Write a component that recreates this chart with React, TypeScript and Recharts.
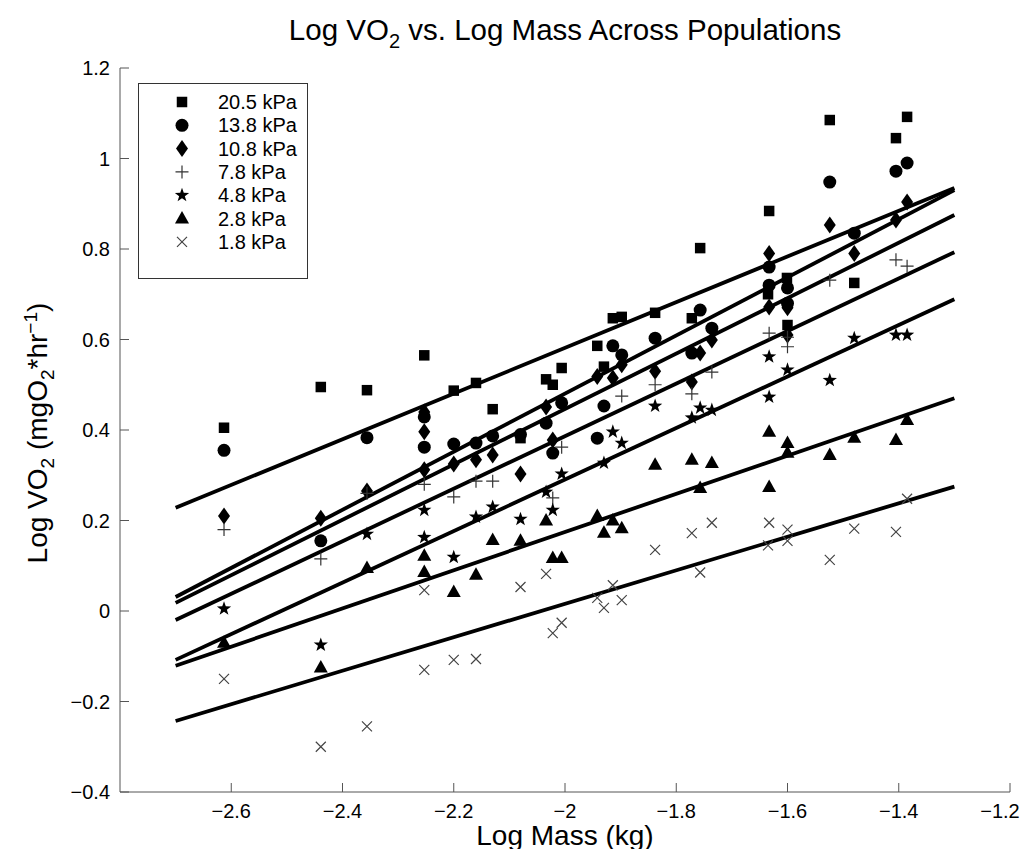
import React from "react";
import { ScatterChart, Scatter, XAxis, YAxis } from "recharts";

// measured points: [log mass (kg), log VO2]
const kpa205: [number, number][] = [
  [-2.613, 0.405], [-2.439, 0.495], [-2.356, 0.488], [-2.253, 0.565], [-2.2, 0.487],
  [-2.16, 0.504], [-2.13, 0.446], [-2.08, 0.382], [-2.034, 0.512], [-2.022, 0.5],
  [-2.006, 0.537], [-1.942, 0.586], [-1.93, 0.54], [-1.914, 0.647], [-1.898, 0.65],
  [-1.838, 0.659], [-1.772, 0.647], [-1.757, 0.802], [-1.633, 0.884], [-1.635, 0.7],
  [-1.601, 0.736], [-1.6, 0.632], [-1.524, 1.085], [-1.48, 0.725], [-1.405, 1.045],
  [-1.385, 1.092],
];
const kpa138: [number, number][] = [
  [-2.613, 0.355], [-2.439, 0.155], [-2.356, 0.383], [-2.253, 0.429], [-2.253, 0.362],
  [-2.2, 0.369], [-2.16, 0.371], [-2.13, 0.387], [-2.08, 0.39], [-2.034, 0.415],
  [-2.022, 0.349], [-2.006, 0.46], [-1.942, 0.382], [-1.93, 0.453], [-1.914, 0.586],
  [-1.898, 0.566], [-1.838, 0.603], [-1.772, 0.57], [-1.757, 0.665], [-1.736, 0.625],
  [-1.633, 0.76], [-1.633, 0.72], [-1.6, 0.714], [-1.6, 0.68], [-1.524, 0.948],
  [-1.48, 0.835], [-1.405, 0.972], [-1.385, 0.99],
];
const kpa108: [number, number][] = [
  [-2.613, 0.21], [-2.439, 0.205], [-2.356, 0.265], [-2.253, 0.44], [-2.253, 0.396],
  [-2.253, 0.312], [-2.2, 0.325], [-2.16, 0.334], [-2.13, 0.345], [-2.08, 0.303],
  [-2.034, 0.451], [-2.022, 0.378], [-1.942, 0.518], [-1.914, 0.515], [-1.898, 0.544],
  [-1.838, 0.53], [-1.772, 0.506], [-1.757, 0.57], [-1.736, 0.599], [-1.633, 0.79],
  [-1.633, 0.672], [-1.6, 0.67], [-1.6, 0.61], [-1.524, 0.853], [-1.48, 0.79],
  [-1.405, 0.864], [-1.385, 0.904],
];
const kpa78: [number, number][] = [
  [-2.613, 0.18], [-2.439, 0.115], [-2.356, 0.26], [-2.253, 0.28], [-2.2, 0.252],
  [-2.16, 0.287], [-2.13, 0.287], [-2.022, 0.25], [-2.006, 0.362], [-1.898, 0.475],
  [-1.838, 0.5], [-1.772, 0.48], [-1.736, 0.528], [-1.633, 0.614], [-1.6, 0.605],
  [-1.6, 0.584], [-1.524, 0.731], [-1.405, 0.776], [-1.385, 0.762],
];
const kpa48: [number, number][] = [
  [-2.613, 0.005], [-2.439, -0.075], [-2.356, 0.17], [-2.253, 0.223], [-2.253, 0.163],
  [-2.2, 0.119], [-2.16, 0.208], [-2.13, 0.23], [-2.08, 0.203], [-2.034, 0.263],
  [-2.006, 0.303], [-2.022, 0.223], [-1.93, 0.327], [-1.914, 0.396], [-1.898, 0.371],
  [-1.838, 0.453], [-1.772, 0.427], [-1.757, 0.449], [-1.736, 0.444], [-1.633, 0.562],
  [-1.633, 0.473], [-1.6, 0.533], [-1.524, 0.51], [-1.48, 0.603], [-1.405, 0.61],
  [-1.385, 0.61],
];
const kpa28: [number, number][] = [
  [-2.613, -0.07], [-2.439, -0.125], [-2.356, 0.095], [-2.253, 0.122], [-2.253, 0.086],
  [-2.2, 0.042], [-2.16, 0.08], [-2.13, 0.157], [-2.08, 0.155], [-2.034, 0.2],
  [-2.022, 0.117], [-2.006, 0.117], [-1.942, 0.21], [-1.93, 0.173], [-1.914, 0.2],
  [-1.898, 0.183], [-1.838, 0.323], [-1.772, 0.334], [-1.757, 0.272], [-1.736, 0.327],
  [-1.633, 0.396], [-1.633, 0.274], [-1.6, 0.371], [-1.6, 0.35], [-1.524, 0.345],
  [-1.48, 0.383], [-1.405, 0.378], [-1.385, 0.422],
];
const kpa18: [number, number][] = [
  [-2.613, -0.15], [-2.439, -0.3], [-2.356, -0.255], [-2.253, 0.046], [-2.253, -0.13],
  [-2.2, -0.108], [-2.16, -0.106], [-2.08, 0.053], [-2.034, 0.082], [-2.022, -0.049],
  [-2.006, -0.026], [-1.942, 0.029], [-1.93, 0.007], [-1.914, 0.057], [-1.898, 0.024],
  [-1.838, 0.135], [-1.772, 0.172], [-1.757, 0.085], [-1.736, 0.195], [-1.633, 0.195],
  [-1.635, 0.145], [-1.6, 0.18], [-1.6, 0.155], [-1.524, 0.113], [-1.48, 0.182],
  [-1.405, 0.175], [-1.385, 0.248],
];

// fitted line ends at these masses
const fitMass = [-2.7, -1.3];
const fit205 = [0.228, 0.935];
const fit138 = [0.031, 0.93];
const fit108 = [0.018, 0.875];
const fit78 = [-0.02, 0.793];
const fit48 = [-0.108, 0.689];
const fit28 = [-0.121, 0.47];
const fit18 = [-0.243, 0.275];

const xTicks = [-2.6, -2.4, -2.2, -2, -1.8, -1.6, -1.4, -1.2];
const yTicks = [-0.4, -0.2, 0, 0.2, 0.4, 0.6, 0.8, 1, 1.2];

const FONT = '"Liberation Sans", Arial, Helvetica, sans-serif';

const series = [
  { name: "20.5 kPa", kind: "square", pts: kpa205, fit: fit205 },
  { name: "13.8 kPa", kind: "circle", pts: kpa138, fit: fit138 },
  { name: "10.8 kPa", kind: "diamond", pts: kpa108, fit: fit108 },
  { name: "7.8 kPa", kind: "plus", pts: kpa78, fit: fit78 },
  { name: "4.8 kPa", kind: "star", pts: kpa48, fit: fit48 },
  { name: "2.8 kPa", kind: "triangle", pts: kpa28, fit: fit28 },
  { name: "1.8 kPa", kind: "x", pts: kpa18, fit: fit18 },
];

function starPoints(cx: number, cy: number, ro: number, ri: number) {
  const out: string[] = [];
  for (let i = 0; i < 10; i++) {
    const r = i % 2 === 0 ? ro : ri;
    const a = -Math.PI / 2 + (i * Math.PI) / 5;
    out.push(`${cx + r * Math.cos(a)},${cy + r * Math.sin(a)}`);
  }
  return out.join(" ");
}

function Marker({ kind, cx, cy }: { kind: string; cx: number; cy: number }) {
  switch (kind) {
    case "square":
      return <rect x={cx - 5.25} y={cy - 5.25} width={10.5} height={10.5} fill="#000" />;
    case "circle":
      return <circle cx={cx} cy={cy} r={6.5} fill="#000" />;
    case "diamond":
      return (
        <polygon
          points={`${cx},${cy - 8.5} ${cx + 6},${cy} ${cx},${cy + 8.5} ${cx - 6},${cy}`}
          fill="#000"
        />
      );
    case "plus":
      return (
        <path
          d={`M${cx - 6.5},${cy}H${cx + 6.5}M${cx},${cy - 6.5}V${cy + 6.5}`}
          stroke="#333"
          strokeWidth={1.2}
          fill="none"
        />
      );
    case "star":
      return <polygon points={starPoints(cx, cy, 7.5, 3)} fill="#000" />;
    case "triangle":
      return (
        <polygon
          points={`${cx},${cy - 7.5} ${cx + 7},${cy + 5} ${cx - 7},${cy + 5}`}
          fill="#000"
        />
      );
    default:
      return (
        <path
          d={`M${cx - 5},${cy - 5}L${cx + 5},${cy + 5}M${cx - 5},${cy + 5}L${cx + 5},${cy - 5}`}
          stroke="#444"
          strokeWidth={1.2}
          fill="none"
        />
      );
  }
}

const fmt = (v: number) => String(v).replace("-", "\u2212");

const XTick = (props: any) => {
  const { x, y, payload } = props;
  // last label sits against the right edge, nudge it in
  const shift = payload.value === xTicks[xTicks.length - 1] ? -10 : 0;
  return (
    <g>
      <line x1={x} y1={y} x2={x} y2={y - 9} stroke="#555" />
      <text x={x + shift} y={y + 26} textAnchor="middle" fontFamily={FONT} fontSize={20} fill="#000">
        {fmt(payload.value)}
      </text>
    </g>
  );
};

const YTick = (props: any) => {
  const { x, y, payload } = props;
  return (
    <g>
      <line x1={x} y1={y} x2={x + 9} y2={y} stroke="#555" />
      <text x={x - 10} y={y} dy="0.35em" textAnchor="end" fontFamily={FONT} fontSize={20} fill="#000">
        {fmt(payload.value)}
      </text>
    </g>
  );
};

const subStyle: React.CSSProperties = { fontSize: "0.68em", verticalAlign: "-0.38em", lineHeight: 0 };
const supStyle: React.CSSProperties = { fontSize: "0.68em", verticalAlign: "0.55em", lineHeight: 0 };

function LegendBox() {
  return (
    <svg width={170} height={196} style={{ position: "absolute", left: 130, top: 75 }}>
      <rect x={0.5} y={0.5} width={169} height={195} fill="#fff" stroke="#333" />
      {series.map((s, i) => {
        const cy = 19 + i * 23.3;
        return (
          <g key={s.name}>
            <Marker kind={s.kind} cx={44} cy={cy} />
            <text x={80} y={cy} dy="0.35em" fontFamily={FONT} fontSize={20} fill="#000">
              {s.name}
            </text>
          </g>
        );
      })}
    </svg>
  );
}

export default function App() {
  return (
    <div style={{ position: "relative", width: 1012, height: 841, fontFamily: FONT, color: "#000" }}>
      <ScatterChart
        width={1012}
        height={841}
        margin={{ top: 60, right: 10, bottom: 17, left: 52 }}
        style={{ overflow: "visible" }}
      >
        <XAxis
          type="number"
          dataKey="mass"
          domain={[-2.8, -1.2]}
          ticks={xTicks}
          interval={0}
          height={40}
          tickSize={0}
          tickMargin={0}
          tickLine={false}
          tick={<XTick />}
          axisLine={{ stroke: "#555" }}
          allowDataOverflow
        />
        <YAxis
          type="number"
          dataKey="vo2"
          domain={[-0.4, 1.2]}
          ticks={yTicks}
          interval={0}
          width={60}
          tickSize={0}
          tickMargin={0}
          tickLine={false}
          tick={<YTick />}
          axisLine={{ stroke: "#555" }}
          allowDataOverflow
        />
        {series.map((s) => (
          <Scatter
            key={s.name + "-fit"}
            data={fitMass.map((m, i) => ({ mass: m, vo2: s.fit[i] }))}
            line={{ stroke: "#000", strokeWidth: 3.8 }}
            shape={() => <g />}
            fill="#000"
            legendType="none"
            isAnimationActive={false}
          />
        ))}
        {series.map((s) => (
          <Scatter
            key={s.name}
            name={s.name}
            data={s.pts.map(([m, v]) => ({ mass: m, vo2: v }))}
            shape={(p: any) => <Marker kind={s.kind} cx={p.cx} cy={p.cy} />}
            isAnimationActive={false}
          />
        ))}
      </ScatterChart>

      <div
        style={{
          position: "absolute",
          left: 557,
          top: 8,
          transform: "translateX(-50%)",
          whiteSpace: "nowrap",
          fontSize: 29.5,
          lineHeight: "28px",
        }}
      >
        Log VO<sub style={subStyle}>2</sub> vs. Log Mass Across Populations
      </div>

      <div
        style={{
          position: "absolute",
          left: 557,
          top: 818,
          transform: "translateX(-50%)",
          whiteSpace: "nowrap",
          fontSize: 28,
          lineHeight: "20px",
        }}
      >
        Log Mass (kg)
      </div>

      <div
        style={{
          position: "absolute",
          left: 30,
          top: 425,
          transform: "translate(-50%, -50%) rotate(-90deg)",
          whiteSpace: "nowrap",
          fontSize: 28,
          lineHeight: "28px",
        }}
      >
        Log VO<sub style={subStyle}>2</sub> (mgO<sub style={subStyle}>2</sub>*hr
        <sup style={supStyle}>{"\u22121"}</sup>)
      </div>

      <LegendBox />
    </div>
  );
}
